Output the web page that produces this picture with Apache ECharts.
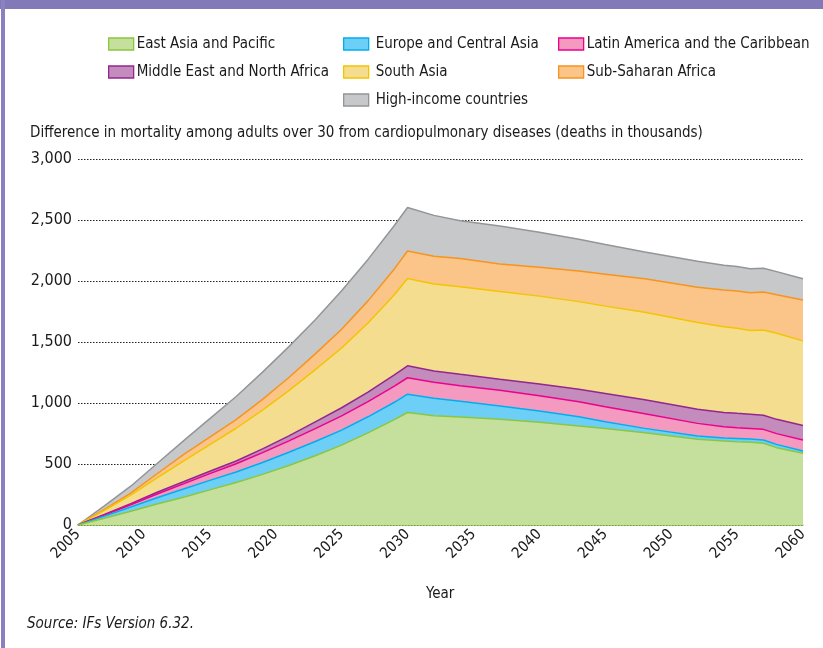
<!DOCTYPE html>
<html>
<head>
<meta charset="utf-8">
<script src="https://cdn.jsdelivr.net/npm/echarts@6/dist/echarts.min.js"></script>
<style>
html,body{margin:0;padding:0;background:#fff;}
#chart{width:823px;height:648px;}
</style>
</head>
<body>
<div id="chart"></div>
<script>
// ---- Data (deaths in thousands) ----
const years = [2005,2007,2009,2011,2013,2015,2017,2019,2021,2023,2025,2027,2029,2030,2032,2034,2037,2040,2043,2045,2048,2052,2054,2055,2056,2057,2058,2060];
const eastAsiaPacific   = [0,55,112,172,228,288,348,415,488,568,655,755,864,922,896,885,866,842,812,790,757,702,689,683,678,670,634,588];
const europeCentralAsia = [0,18,35,52,67,78,86,97,108,116,123,132,142,150,142,129,110,93,76,57,35,28,25,27,27,27,27,19];
const latinAmerica      = [0,9,19,30,42,55,68,81,94,106,116,125,133,135,132,127,129,125,123,123,120,103,92,88,86,87,88,90];
const middleEastNAfrica = [0,5,9,14,17,20,23,31,40,55,67,78,91,98,93,94,89,96,101,108,114,116,117,117,117,116,117,118];
const southAsia         = [0,33,70,118,170,218,268,318,371,428,490,566,658,716,712,718,719,720,719,716,717,711,702,697,687,698,705,694];
const subSaharanAfrica  = [0,8,17,34,52,61,70,88,108,130,154,181,211,225,227,231,227,236,251,262,275,289,302,306,309,312,317,336];
const highIncome        = [0,28,56,84,113,152,190,223,253,280,315,340,356,356,336,310,311,287,260,244,220,213,203,200,196,194,189,173];

const seriesNames = ['East Asia and Pacific','Europe and Central Asia','Latin America and the Caribbean','Middle East and North Africa','South Asia','Sub-Saharan Africa','High-income countries'];
const seriesData = [eastAsiaPacific, europeCentralAsia, latinAmerica, middleEastNAfrica, southAsia, subSaharanAfrica, highIncome];
const fills = ['#c5e09d','#6dcff6','#f49ac1','#c48bbd','#f4dd8e','#fbc589','#c7c8ca'];
const lines = ['#8cc63f','#00aeef','#ec008c','#92278f','#f2c500','#f7941d','#939598'];

const yTicks = [0,500,1000,1500,2000,2500,3000];

const FONT = "'DejaVu Sans Condensed', 'Liberation Sans Narrow', 'DejaVu Sans', sans-serif";
const chart = echarts.init(document.getElementById('chart'), null, {renderer:'canvas'});

function legendItem(i){
  return {name: seriesNames[i], itemStyle:{color: fills[i], borderColor: lines[i], borderWidth: 1.3}};
}
const legendBase = {
  orient:'vertical', icon:'rect', itemWidth:25, itemHeight:12, itemGap:12, padding:0,
  selectedMode:false,
  textStyle:{color:'#1a1a1a', fontSize:15, fontFamily:FONT, lineHeight:16, padding:[0,0,0,-2]}
};

const option = {
  animation:false,
  backgroundColor:'#fff',
  grid:{left:78, right:20, top:159, bottom:123, containLabel:false},
  legend:[
    Object.assign({}, legendBase, {left:108, top:36, data:[legendItem(0), legendItem(3)]}),
    Object.assign({}, legendBase, {left:343, top:36, data:[legendItem(1), legendItem(4), legendItem(6)],
      textStyle:Object.assign({}, legendBase.textStyle, {padding:[0,0,0,2]})}),
    Object.assign({}, legendBase, {left:558, top:36, data:[legendItem(2), legendItem(5)]})
  ],
  xAxis:{
    type:'value', min:2005, max:2060, interval:5,
    axisLine:{show:true, lineStyle:{color:'#8cc63f', width:1.5}},
    axisTick:{show:false},
    splitLine:{show:false},
    axisLabel:{rotate:45, color:'#1a1a1a', fontSize:15, fontFamily:FONT, margin:7,
      formatter: v => String(v)}
  },
  yAxis:{
    type:'value', min:yTicks[0], max:yTicks[yTicks.length-1], interval:500,
    axisLine:{show:false}, axisTick:{show:false},
    splitLine:{show:true, lineStyle:{color:'#222', type:[1.5,1.5], width:1}},
    axisLabel:{color:'#1a1a1a', fontSize:16, fontFamily:FONT, margin:6,
      formatter: v => v.toLocaleString('en-US')}
  },
  series: seriesNames.map((n,i)=>({
    name:n, type:'line', stack:'total', symbol:'none', smooth:false,
    // value first, year second so the library stacks the value dimension (by index)
    data: years.map((y,k)=>[seriesData[i][k], y]),
    encode:{x:1, y:0},
    lineStyle:{color:lines[i], width:1.5},
    itemStyle:{color:fills[i]},
    areaStyle:{color:fills[i], opacity:1},
    z: 10 - i
  })),
  graphic:[
    {type:'rect', left:0, top:0, shape:{width:823, height:9}, style:{fill:'#8279b8'}, silent:true},
    {type:'rect', left:1, top:0, shape:{width:4, height:648}, style:{fill:'#8a80c2'}, silent:true},
    {type:'text', left:30, top:126, style:{text:'Difference in mortality among adults over 30 from cardiopulmonary diseases (deaths in thousands)', fill:'#1a1a1a', fontSize:15, fontFamily:FONT}},
    {type:'text', left:426, top:587, style:{text:'Year', fill:'#1a1a1a', fontSize:15, fontFamily:FONT}},
    {type:'text', left:27, top:617, style:{text:'Source: IFs Version 6.32.', fill:'#1a1a1a', fontSize:15, fontStyle:'italic', fontFamily:FONT}}
  ]
};
chart.setOption(option);
</script>
</body>
</html>
